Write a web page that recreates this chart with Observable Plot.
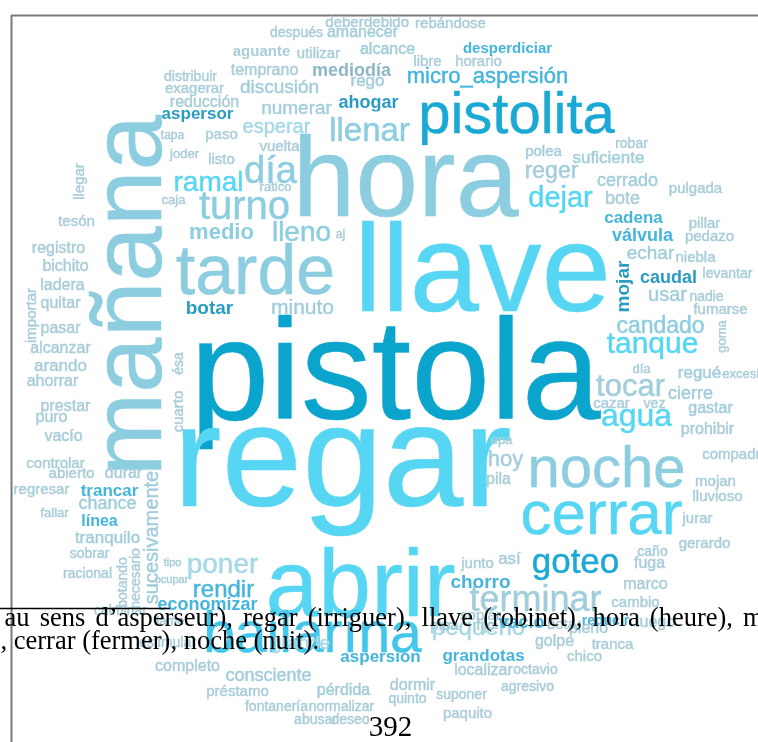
<!DOCTYPE html>
<html><head><meta charset="utf-8">
<script src="https://cdn.jsdelivr.net/npm/d3@7"></script>
<script src="https://cdn.jsdelivr.net/npm/@observablehq/plot@0.6"></script>
<style>body{margin:0;background:#fff} svg{display:block}</style>
</head><body><div id="chart"></div>
<script>
// Word cloud: each entry = [word, weight(px), cloudX, cloudY, angle, bold]
const toneDeep = [["pistola",142,395,418]];
const toneDeep2 = [["pistolita",58,516,132],["goteo",35,575,572]];
const toneBright = [["regar",145,342,505],["llave",125,482,310],["abrir",95,360,615],["cerrar",62,601,533],
  ["agua",32,636,425],["tanque",30,652,352],["dejar",29,560,206],["ramal",28,208,190]];
const toneBright2 = [["bailarína",57,312,651]];
const toneMid = [["hora",113,405,215],["mañana",100,160,295,-90],["tarde",70,255,293],["noche",58,606,486],
  ["día",38,270,182],["turno",40,244,218],["lleno",28,301,240],["medio",22,221,238,0,1],["llenar",33,369,140],
  ["candado",23,660,332]];
const toneGray = [["terminar",36,535,610],["tocar",31,630,395],["reger",23,551,177],["minuto",21,302,313],
  ["hoy",22,505,465],["discusión",19,279,92],["numerar",19,296,113],["sucesivamente",20,157,537,-90],
  ["rego",17,367,85],["usar",20,667,300],["cerrado",18,627,185],["echar",19,650,258],["chance",18,107,508],
  ["tranquilo",17,107,542],["consciente",18,268,680],["pérdida",16,343,694],["regué",17,699,377],
  ["cierre",18,690,398],["gastar",16,710,412],["suficiente",17,608,162],["polea",15,543,155],
  ["alcance",16,387,53],["amanecer",16,362,36]];
const toneLight = [["poner",28,222,572],["esperar",20,276,132],["pequeño",24,478,634],["grande",19,300,648]];
const toneDark = [["aspersor",17,197,118,0,1],["ahogar",18,368,107,0,1],["botar",19,209,313,0,1],
  ["caudal",18,668,282,0,1],["mojar",19,628,286,-90,1]];
const toneBlue = [["micro_aspersión",22,487,82],["desperdiciar",15,507,52,0,1],["rendir",24,223,596],
  ["economizar",18,207,609,0,1],["chorro",19,480,587,0,1],["vacío",18,521,627,0,1],["reducir",14,605,624,0,1],
  ["válvula",18,642,240,0,1],["cadena",17,633,222,0,1],["trancar",17,109,495,0,1],["línea",16,99,525,0,1],
  ["grandotas",17,483,660,0,1],["aspersión",17,380,661,0,1]];
const toneSlate = [["mediodía",18,351,75,0,1]];
const tonePale = [["aguante",15,261,55,0,1],["temprano",16,264,74],["utilizar",15,318,57],["después",14,296,36],
  ["deber",15,344,26],["debido",15,386,26],["rebándose",15,450,27],["libre",15,427,65],["horario",15,478,65],
  ["distribuir",14,190,80],["exagerar",15,194,92],["reducción",16,204,106],["tapa",12,172,138],["paso",15,221,138],
  ["joder",13,184,157],["listo",15,221,163],["vuelta",15,279,150],["ratico",13,275,190],["caja",13,173,203],
  ["aj",12,340,237],["robar",14,631,147],["pulgada",15,695,192],["bote",18,622,203],["pillar",15,704,227],
  ["pedazo",15,709,240],["niebla",15,695,261],["levantar",14,727,277],["nadie",14,706,300],["fumarse",15,720,313],
  ["goma",13,725,336,-90],["día",13,641,372],["excesivo",13,747,377],["cazar",15,611,407],["vez",14,654,407],
  ["prohibir",16,707,433],["compadre",15,735,458],["mojan",15,715,485],["lluvioso",15,717,500],["jurar",15,697,522],
  ["gerardo",15,704,547],["caño",14,652,555],["fuga",16,649,567],["marco",16,645,588],["cambio",15,635,606],
  ["junto",15,477,567],["así",17,509,563],["epa",13,501,443],["pila",16,498,483],["ésa",14,182,363,-90],
  ["cuarto",15,182,411,-90],["llegar",15,83,181,-90],["tesón",15,76,225],["registro",16,58,252],["bichito",16,65,270],
  ["ladera",16,62,289],["quitar",16,60,307],["importar",15,35,315,-90],["pasar",16,60,332],["alcanzar",16,60,352],
  ["arando",17,60,370],["ahorrar",16,52,385],["prestar",16,65,410],["puro",16,51,421],["vacío",16,63,440],
  ["controlar",15,55,467],["abierto",15,71,477],["durar",16,123,477],["regresar",15,41,493],["fallar",13,54,516],
  ["sobrar",14,89,557],["racional",14,87,577],["botando",14,126,582,-90],["necesario",14,139,578,-90],
  ["tipo",11,172,565],["ocupar",11,171,582],["culminar",14,120,614],["lamer",13,172,624],["estimular",14,167,646],
  ["completo",16,187,670],["préstamo",15,237,695],["fontanería",14,276,710],["normalizar",14,341,710],
  ["abusar",14,315,723],["deseo",14,350,723],["localizar",16,483,674],["octavio",14,535,673],["dormir",16,412,689],
  ["agresivo",14,527,690],["suponer",14,461,698],["quinto",14,407,702],["paquito",15,467,717],["bota",15,561,628],
  ["luego",16,655,626],["soplar",15,480,619],["pipa",15,444,629],["fijo",14,485,629],["golpe",16,554,645],
  ["tranca",15,612,648],["chico",15,584,660],["pleno",16,588,632]];

const toneNames = ["deep","deep2","bright","bright2","mid","gray","light","dark","blue","slate","pale"];
const toneColors = ["#0aa4cd","#1aa8d4","#57d6f3","#42c6ea","#8ccde0","#a2cddb","#a6d8e6","#2a9cc4","#45b5dc","#8fb6c6","#a9cdd9"];
const toneGroups = [toneDeep,toneDeep2,toneBright,toneBright2,toneMid,toneGray,toneLight,toneDark,toneBlue,toneSlate,tonePale];

// Overlapping page text (scanned page)
const footLines = ["au sens d’asperseur), regar (irriguer), llave (robinet), hora (heure), m", ", cerrar (fermer), noche (nuit)."];
const footX = [4, 0];
const footY = [625, 648];
const pageNumber = ["392"];

const W = 758, H = 742;
const rows = toneGroups.flatMap((g, i) => g.map(([word, size, x, y, angle = 0, bold = 0]) =>
  ({word, size, x, y, angle, bold, tone: toneNames[i]})));

const common = {x: "x", y: "y", text: "word", fontSize: "size", rotate: "angle",
  fill: "tone", textAnchor: "middle", lineAnchor: "bottom", fontFamily: "Liberation Sans, Arial, sans-serif"};
const serif = "Liberation Serif, Times New Roman, serif";

const plot = Plot.plot({
  width: W, height: H, margin: 0,
  x: {domain: [0, W], range: [0, W], axis: null},
  y: {domain: [0, H], range: [0, H], axis: null},
  color: {domain: toneNames, range: toneColors},
  style: {background: "#fff", overflow: "hidden"},
  marks: [
    Plot.ruleY([15], {x1: 11, x2: W, stroke: "#7a7a7a", strokeWidth: 2}),
    Plot.ruleX([11], {y1: 15, y2: H, stroke: "#7a7a7a", strokeWidth: 2}),
    Plot.text(rows.filter(d => !d.bold), {...common, stroke: "tone", strokeWidth: 0.45}),
    Plot.text(rows.filter(d => d.bold), {...common, fontWeight: "bold"}),
    Plot.ruleY([608], {x1: 0, x2: 170, stroke: "#000", strokeWidth: 1.5}),
    Plot.text(footLines, {x: (d, i) => footX[i], y: (d, i) => footY[i], text: d => d, fill: "#000",
      fontSize: 26.5, fontFamily: serif, textAnchor: "start", lineAnchor: "bottom"}),
    Plot.text(pageNumber, {x: [390], y: [735], text: d => d, fill: "#000", fontSize: 29,
      fontFamily: serif, textAnchor: "middle", lineAnchor: "bottom"})
  ]
});
const svg = d3.select(plot);
svg.selectAll("text").filter(function () { return this.textContent.startsWith("au sens"); })
  .attr("word-spacing", "3.5px");
svg.selectAll('g[aria-label="text"]').filter((d, i) => i < 2).style("filter", "blur(0.4px)");
document.getElementById("chart").appendChild(plot);
</script>
</body></html>
